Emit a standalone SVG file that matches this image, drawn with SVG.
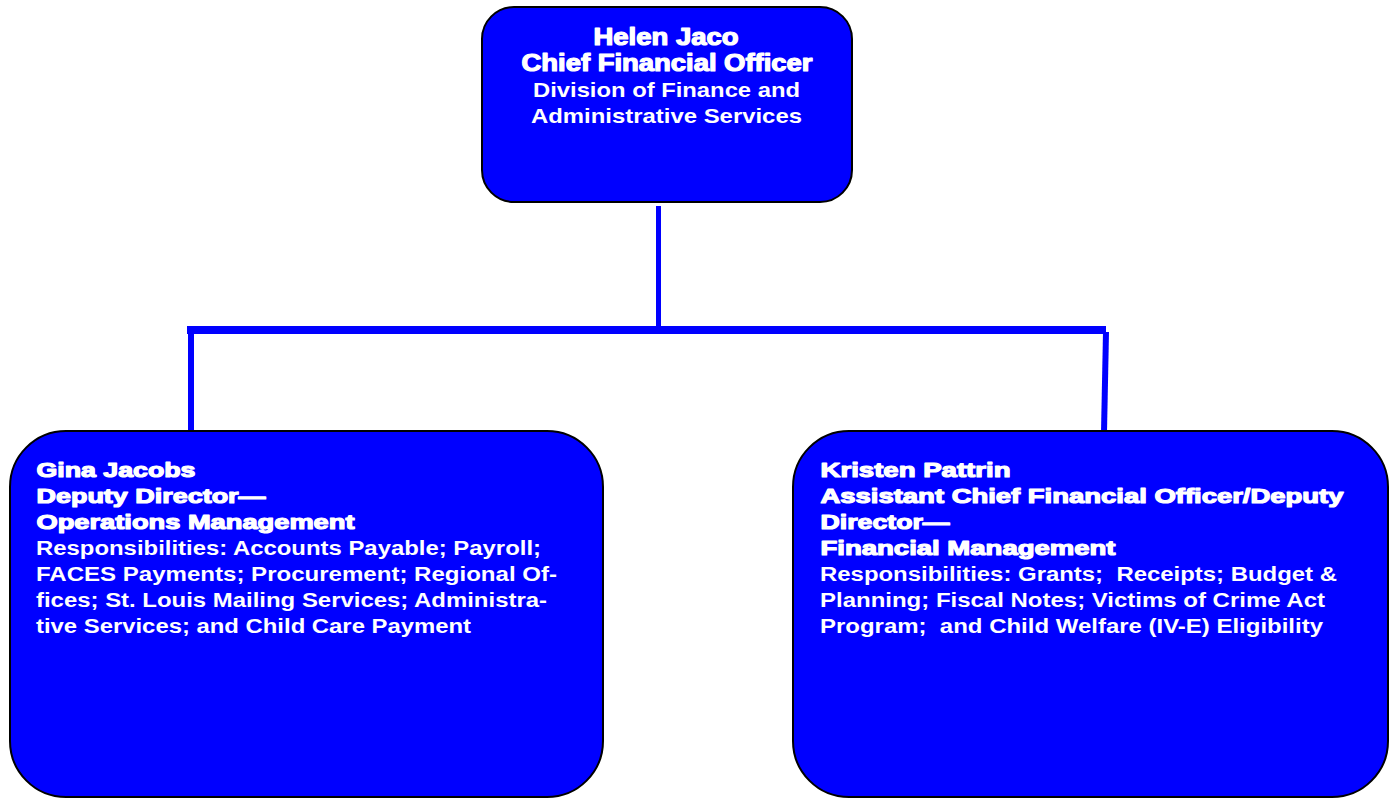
<svg xmlns="http://www.w3.org/2000/svg" width="1399" height="799" viewBox="0 0 1399 799">
<style>
.box{fill:#0000FF;stroke:#000000;stroke-width:2}
.conn{stroke:#0000FF;fill:none;stroke-linecap:butt}
.hd{font-family:"Liberation Sans",Arial,sans-serif;font-weight:bold;fill:#FFFFFF;stroke:#FFFFFF;stroke-width:1.2;stroke-linejoin:round}
.bd{font-family:"Liberation Sans",Arial,sans-serif;font-weight:bold;fill:#FFFFFF;white-space:pre}
</style>
<rect width="1399" height="799" fill="#FFFFFF"/>
<g id="connectors">
<line class="conn" x1="658.5" y1="206" x2="658.5" y2="327" stroke-width="5"/>
<line class="conn" x1="187" y1="330" x2="1106" y2="330" stroke-width="8"/>
<line class="conn" x1="191" y1="333" x2="191" y2="432" stroke-width="6"/>
<line class="conn" x1="1106" y1="332" x2="1104" y2="432" stroke-width="6"/>
</g>
<g id="node-cfo">
<rect class="box" x="482" y="7" width="370" height="195" rx="32" ry="32"/>
<text class="hd" font-size="23" x="593.5" y="45" textLength="145" lengthAdjust="spacingAndGlyphs">Helen Jaco</text>
<text class="hd" font-size="23" x="521.5" y="71" textLength="291" lengthAdjust="spacingAndGlyphs">Chief Financial Officer</text>
<text class="bd" font-size="21" x="533" y="97" textLength="267" lengthAdjust="spacingAndGlyphs">Division of Finance and</text>
<text class="bd" font-size="21" x="531" y="123" textLength="271" lengthAdjust="spacingAndGlyphs">Administrative Services</text>
</g>
<g id="node-ops">
<rect class="box" x="10" y="431" width="593" height="366" rx="56" ry="56"/>
<text class="hd" font-size="21" x="36.5" y="477" textLength="159" lengthAdjust="spacingAndGlyphs">Gina Jacobs</text>
<text class="hd" font-size="21" x="36.5" y="503" textLength="229" lengthAdjust="spacingAndGlyphs">Deputy Director—</text>
<text class="hd" font-size="21" x="36.5" y="529" textLength="318" lengthAdjust="spacingAndGlyphs">Operations Management</text>
<text class="bd" font-size="20" x="36" y="555" textLength="505" lengthAdjust="spacingAndGlyphs">Responsibilities: Accounts Payable; Payroll;</text>
<text class="bd" font-size="20" x="36" y="581" textLength="521" lengthAdjust="spacingAndGlyphs">FACES Payments; Procurement; Regional Of-</text>
<text class="bd" font-size="20" x="36" y="607" textLength="511" lengthAdjust="spacingAndGlyphs">fices; St. Louis Mailing Services; Administra-</text>
<text class="bd" font-size="20" x="36" y="633" textLength="435" lengthAdjust="spacingAndGlyphs">tive Services; and Child Care Payment</text>
</g>
<g id="node-fin">
<rect class="box" x="793" y="431" width="595" height="366" rx="56" ry="56"/>
<text class="hd" font-size="21" x="820.5" y="477" textLength="190" lengthAdjust="spacingAndGlyphs">Kristen Pattrin</text>
<text class="hd" font-size="21" x="820.5" y="503" textLength="523" lengthAdjust="spacingAndGlyphs">Assistant Chief Financial Officer/Deputy</text>
<text class="hd" font-size="21" x="820.5" y="529" textLength="129" lengthAdjust="spacingAndGlyphs">Director—</text>
<text class="hd" font-size="21" x="820.5" y="555" textLength="295" lengthAdjust="spacingAndGlyphs">Financial Management</text>
<text class="bd" font-size="20" x="820" y="581" textLength="517" lengthAdjust="spacingAndGlyphs">Responsibilities: Grants;  Receipts; Budget &amp;</text>
<text class="bd" font-size="20" x="820" y="607" textLength="505" lengthAdjust="spacingAndGlyphs">Planning; Fiscal Notes; Victims of Crime Act</text>
<text class="bd" font-size="20" x="820" y="633" textLength="503" lengthAdjust="spacingAndGlyphs">Program;  and Child Welfare (IV-E) Eligibility</text>
</g>
</svg>
